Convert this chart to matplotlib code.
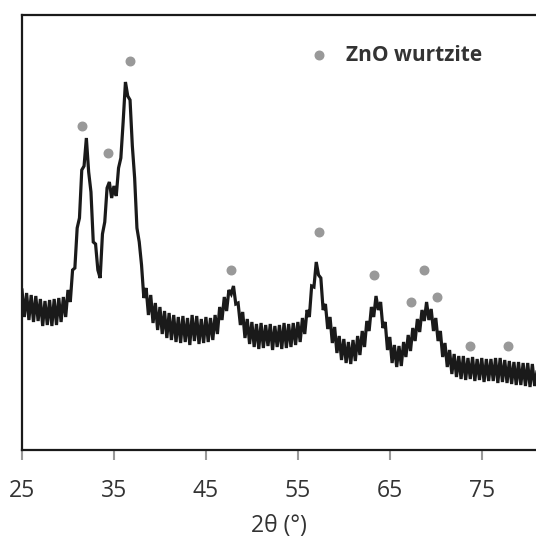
import numpy as np
import matplotlib.pyplot as plt

plt.rcParams['font.family'] = ['Open Sans', 'DejaVu Sans']

# XRD pattern, 2theta from 25 to 81 deg in 0.25 deg steps (intensity in arbitrary units)
two_theta = np.arange(25, 81.01, 0.25)
intensity = [
    160, 133, 157, 130,  155, 128, 154, 129,  151, 124, 149, 125,  150, 124, 151, 125,
    152, 128, 153, 133,  160, 148, 180, 182,  222, 232, 280, 284,  312, 278, 258, 208,
    206, 180, 172, 216,  228, 262, 268, 252,  264, 254, 282, 292,  328, 368, 354, 350,
    304, 272, 222, 208,  185, 152, 162, 135,  155, 127, 147, 120,  143, 116, 139, 112,
    137, 110, 135, 108,  133, 107, 134, 108,  132, 105, 135, 109,  134, 106, 131, 107,
    133, 108, 132, 110,  135, 116, 143, 130,  153, 139, 160, 156,  164, 146, 147, 125,
    138, 112, 131, 106,  128, 103, 126, 101,  127, 102, 125, 104,  126, 100, 124, 103,
    125, 101, 127, 102,  126, 103, 127, 105,  128, 108, 132, 116,  140, 133, 164, 163,
    188, 175, 172, 140,  146, 121, 133, 107,  123, 97, 114, 90,    111, 87, 108, 86,
    110, 89, 114, 95,    119, 103, 129, 119,  143, 133, 154, 140,  148, 122, 128, 100,
    113, 87, 105, 83,    104, 84, 108, 93,    115, 99, 122, 109,   131, 118, 140, 129,
    148, 130, 141, 119,  132, 109, 119, 93,   107, 83, 100, 76,    96, 73, 94, 71,
    94, 70, 92, 71,      93, 69, 91, 70,      92, 68, 91, 69,      91, 69, 92, 67,
    92, 68, 90, 67,      89, 66, 88, 65,      88, 65, 87, 64,      87, 63, 86, 64,
    78,
]

# ZnO wurtzite reflection markers
zno_pos = [31.52, 34.35, 36.74, 47.72, 57.28, 63.26, 67.28, 68.70, 70.11, 73.70, 77.83]
zno_int = [324, 297, 389, 180, 218, 175, 148, 180, 153, 104, 104]

xticks = [25, 35, 45, 55, 65, 75]

fig = plt.figure(figsize=(5.36, 5.39), dpi=100)
ax = fig.add_axes([22 / 536, 1 - 450 / 539, 1 - 22 / 536, 435 / 539])

ax.plot(two_theta, intensity, color='#1a1a1a', lw=2.3, solid_joinstyle='miter')
ax.scatter(zno_pos, zno_int, s=38, color='#999999', zorder=3, label='ZnO wurtzite')

ax.set_xlim(25, 80.9)
ax.set_ylim(0, 435)
ax.set_xticks(xticks)
ax.set_yticks([])
ax.tick_params(axis='x', direction='out', length=7, width=1.5, color='#999999',
               labelsize=16.5, labelcolor='#333333', pad=14)
for s in ['left', 'top', 'bottom']:
    ax.spines[s].set_linewidth(1.6)
    ax.spines[s].set_color('#1a1a1a')
ax.spines['right'].set_visible(False)

ax.set_xlabel('2θ (°)', fontsize=16.5, color='#333333', labelpad=8)

leg = ax.legend(loc='upper left', bbox_to_anchor=(0.50, 0.975), frameon=False,
                handletextpad=0.3, prop={'weight': 'bold', 'size': 15})
for t in leg.get_texts():
    t.set_color('#333333')

fig.savefig('out.png', dpi=100)
